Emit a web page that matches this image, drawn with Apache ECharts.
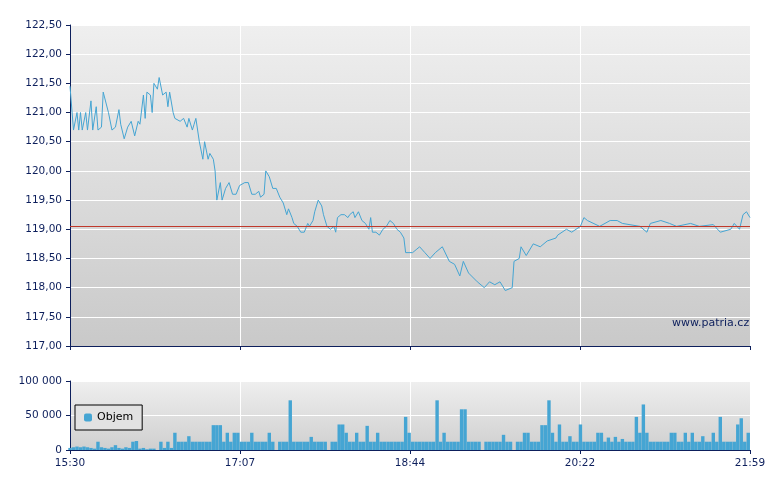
<!DOCTYPE html>
<html>
<head>
<meta charset="utf-8">
<script src="https://cdn.jsdelivr.net/npm/echarts@6/dist/echarts.min.js"></script>
<style>body{margin:0;background:#fff}#chart{width:780px;height:490px}</style>
</head>
<body>
<div id="chart"></div>
<script>
// minutes since 15:30
var timeLabels = ['15:30', '17:07', '18:44', '20:22', '21:59'];
var refPrice = 119.06;

var price = [
    [0,121.45],[2,120.7],[4,121.0],[5,120.7],[6,121.0],[7,120.7],[9,121.0],[10,120.7],[12,121.2],[13,120.7],
    [15,121.1],[16,120.7],[18,120.75],[19,121.35],[22,121.0],[24,120.7],[26,120.75],[28,121.05],[29,120.8],[31,120.55],
    [33,120.75],[35,120.85],[37,120.6],[39,120.85],[40,120.8],[42,121.3],[43,120.9],[44,121.35],[46,121.3],[47,121.0],
    [48,121.5],[50,121.4],[51,121.6],[53,121.3],[55,121.35],[56,121.1],[57,121.35],[59,121.0],[60,120.9],[63,120.85],
    [65,120.9],[67,120.75],[68,120.9],[70,120.7],[71,120.8],[72,120.9],[74,120.5],[76,120.2],[77,120.5],[79,120.2],
    [80,120.3],[82,120.2],[83,120.0],[84,119.5],[86,119.8],[87,119.5],[89,119.7],[91,119.8],[93,119.6],[95,119.6],
    [97,119.75],[100,119.8],[102,119.8],[104,119.6],[106,119.6],[108,119.65],[109,119.55],[111,119.6],[112,120.0],[114,119.9],
    [116,119.7],[118,119.7],[120,119.55],[122,119.45],[124,119.25],[125,119.35],[127,119.2],[128,119.1],[130,119.05],[132,118.95],
    [134,118.95],[136,119.1],[137,119.05],[139,119.15],[140,119.3],[142,119.5],[144,119.4],[145,119.25],[147,119.05],[149,119.0],
    [151,119.05],[152,118.95],[153,119.2],[155,119.25],[157,119.25],[159,119.2],[160,119.25],[162,119.3],[163,119.2],[165,119.3],
    [167,119.15],[169,119.1],[171,119.0],[172,119.2],[173,118.95],[175,118.95],[177,118.9],[179,119.0],[181,119.05],[183,119.15],
    [185,119.1],[187,119.0],[189,118.95],[191,118.85],[192,118.6],[196,118.6],[198,118.65],[200,118.7],[203,118.6],[206,118.5],
    [209,118.6],[213,118.7],[217,118.45],[220,118.4],[223,118.2],[225,118.45],[228,118.25],[233,118.1],[237,118.0],[240,118.1],
    [243,118.05],[246,118.1],[249,117.95],[253,118.0],[254,118.45],[257,118.5],[258,118.7],[261,118.55],[265,118.75],[269,118.7],
    [273,118.8],[278,118.85],[279,118.9],[284,119.0],[287,118.95],[292,119.05],[294,119.2],[296,119.15],[303,119.05],[309,119.15],
    [313,119.15],[316,119.1],[326,119.05],[330,118.95],[332,119.1],[338,119.15],[343,119.1],[347,119.05],[355,119.1],[360,119.05],
    [368,119.08],[372,118.95],[378,119.0],[380,119.1],[383,119.0],[385,119.25],[387,119.3],[389,119.2]
];

// volume in thousands, one value per 2 minutes
var volEarly = [3,4,5,4,5,4,3,2,12,4,3,2,4,7,3,2,4,3,12,13,2,3,1,2,2,0,12,3,12,3];
var volLate = [
    25,12,12,12,20,12,12,12,12,12, 12,36,36,36,12,25,12,25,25,12,
    12,12,25,12,12,12,12,25,12,0, 12,12,12,72,12,12,12,12,12,19,
    12,12,12,12,0,12,12,37,37,25, 12,12,25,12,12,35,12,12,25,12,
    12,12,12,12,12,12,48,25,12,12, 12,12,12,12,12,72,12,25,12,12,
    12,12,59,59,12,12,12,12,0,12, 12,12,12,12,22,12,12,0,12,12,
    25,25,12,12,12,36,36,72,25,12, 37,12,12,20,12,12,37,12,12,12,
    12,25,25,12,18,12,19,12,16,12, 12,12,48,25,66,25,12,12,12,12,
    12,12,25,25,12,12,25,12,25,12, 12,20,12,12,25,12,48,12,12,12,
    12,37,46,12,25
];

var volume = volEarly.concat(volLate).map(function(v, i) { return [i * 2, v * 1000]; });

var navy = '#0d1f5c';
var bg = new echarts.graphic.LinearGradient(0, 0, 0, 1, [{offset: 0, color: '#efefef'}, {offset: 1, color: '#c9c9c9'}]);
var bg2 = new echarts.graphic.LinearGradient(0, 0, 0, 1, [{offset: 0, color: '#efefef'}, {offset: 1, color: '#cfcfcf'}]);
var step = 389 / 4;

function xAxisCfg(idx, showLabel) {
    return {
        type: 'value', gridIndex: idx, min: 0, max: 389, interval: step,
        axisLine: {lineStyle: {color: navy}},
        axisTick: {lineStyle: {color: navy}, length: 4},
        splitLine: {lineStyle: {color: '#ffffff'}},
        axisLabel: {show: showLabel, color: navy, fontFamily: 'DejaVu Sans', fontSize: 10.5,
            formatter: function(v) { return timeLabels[Math.round(v / step)]; }}
    };
}

var chart = echarts.init(document.getElementById('chart'));
chart.setOption({
    animation: false,
    grid: [
        {left: 70, right: 30, top: 25, height: 321, show: true, backgroundColor: bg, borderWidth: 0},
        {left: 70, right: 30, top: 381, height: 69, show: true, backgroundColor: bg2, borderWidth: 0}
    ],
    legend: {
        data: ['Objem'], left: 75, top: 405, orient: 'vertical',
        padding: [7, 9], itemWidth: 8, itemHeight: 8, itemGap: 4, borderRadius: 0,
        borderColor: '#000', borderWidth: 1, backgroundColor: '#e2e2e2',
        textStyle: {color: '#000', fontFamily: 'DejaVu Sans', fontSize: 11}
    },
    graphic: [{type: 'text', left: 672, top: 318, style: {text: 'www.patria.cz', fill: navy, font: '11px DejaVu Sans'}}],
    xAxis: [xAxisCfg(0, false), xAxisCfg(1, true)],
    yAxis: [
        {type: 'value', gridIndex: 0, min: 117, max: 122.5, interval: 0.5,
            axisLine: {show: true, lineStyle: {color: navy}}, axisTick: {show: true, lineStyle: {color: navy}, length: 4},
            splitLine: {lineStyle: {color: '#ffffff'}},
            axisLabel: {color: navy, fontFamily: 'DejaVu Sans', fontSize: 10.5,
                formatter: function(v) { return v.toFixed(2).replace('.', ','); }}},
        {type: 'value', gridIndex: 1, min: 0, max: 100000, interval: 50000,
            axisLine: {show: true, lineStyle: {color: navy}}, axisTick: {show: true, lineStyle: {color: navy}, length: 4},
            splitLine: {lineStyle: {color: '#ffffff'}},
            axisLabel: {color: navy, fontFamily: 'DejaVu Sans', fontSize: 10.5,
                formatter: function(v) { return v === 0 ? '0' : (v / 1000) + ' 000'; }}}
    ],
    series: [
        {name: 'Cena', type: 'line', xAxisIndex: 0, yAxisIndex: 0, data: price, symbol: 'none',
            lineStyle: {color: '#45a5d3', width: 1}, itemStyle: {color: '#45a5d3'},
            markLine: {silent: true, symbol: 'none', label: {show: false},
                lineStyle: {color: '#c0392b', type: 'solid', width: 1}, data: [{yAxis: refPrice}]}},
        {name: 'Objem', type: 'bar', xAxisIndex: 1, yAxisIndex: 1, data: volume, barWidth: 3.4,
            itemStyle: {color: '#45a5d3'}}
    ]
});
</script>
</body>
</html>
